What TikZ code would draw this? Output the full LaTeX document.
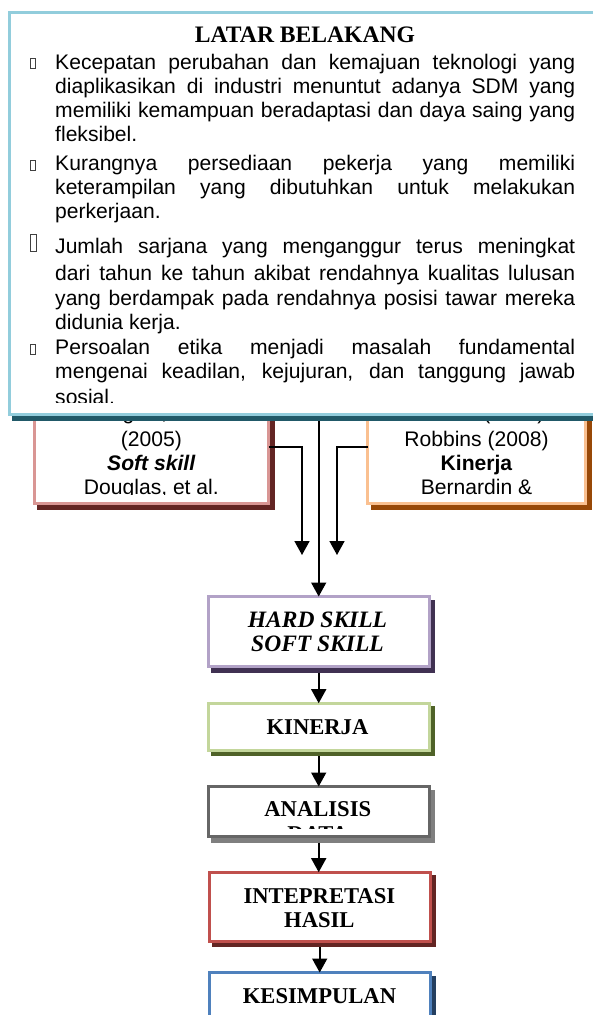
\documentclass[tikz,border=0pt]{standalone}
\usepackage{fontspec}
\setmainfont{Liberation Sans}
\newfontfamily\headfont{Liberation Serif}
\usepackage{tikz}
\usetikzlibrary{arrows.meta,shadows}

\definecolor{bgblue}{HTML}{92CDDC}
\definecolor{bgteal}{HTML}{215968}
\definecolor{sspink}{HTML}{D99694}
\definecolor{ssred}{HTML}{632523}
\definecolor{kjorange}{HTML}{FAC090}
\definecolor{kjbrown}{HTML}{984807}
\definecolor{hslilac}{HTML}{B2A2C7}
\definecolor{hspurple}{HTML}{403152}
\definecolor{kngreen}{HTML}{C3D69B}
\definecolor{knolive}{HTML}{4F6228}
\definecolor{andark}{HTML}{666666}
\definecolor{angray}{HTML}{7F7F7F}
\definecolor{inred}{HTML}{C0504D}
\definecolor{inmaroon}{HTML}{632523}
\definecolor{ksblue}{HTML}{4F81BD}
\definecolor{ksnavy}{HTML}{243F60}

\tikzset{
  panel/.style 2 args={draw=#1, line width=3pt, fill=white, inner sep=0pt, outer sep=0pt,
    general shadow={fill=#2, draw=#2, line width=3pt, shadow xshift=4.5pt, shadow yshift=-4.5pt}},
  flow/.style={line width=1.6pt, -{Triangle[width=15pt,length=14pt]}},
  bodytext/.style={anchor=base west, inner sep=0pt, font=\fontsize{21.1}{24}\selectfont},
  reftext/.style={anchor=base, inner sep=0pt, font=\fontsize{21.1}{24}\selectfont},
  steplabel/.style={anchor=base, inner sep=0pt, font=\headfont\bfseries\fontsize{22.6}{24}\selectfont},
  bulletbox/.style={draw=black!75, line width=0.6pt},
}

\begin{document}
\begin{tikzpicture}[x=1pt,y=-1pt]
\useasboundingbox[fill=white] (0,0) rectangle (592,1015);

% Theory boxes
\node[panel={sspink}{ssred}, minimum width=234.3pt, minimum height=113.5pt] (soft) at (151.35,446.75) {};
\node[panel={kjorange}{kjbrown}, minimum width=218pt, minimum height=113.5pt] (kin) at (476.5,446.75) {};
\begin{scope}
  \clip (20,380) rectangle (592,494.5);
  \node[reftext] (softa) at (151.35,419.5) {Douglas, et al.};
  \node[reftext] (softb) at (151.35,446) {(2005)};
  \node[reftext] (softc) at (151.35,470) {\textbf{\textit{Soft skill}}};
  \node[reftext] (softd) at (151.35,494) {Douglas, et al.};
  \node[reftext] (kina) at (476.5,419.5) {Russell (1993)};
  \node[reftext] (kinb) at (476.5,446) {Robbins (2008)};
  \node[reftext] (kinc) at (476.5,470) {\textbf{Kinerja}};
  \node[reftext] (kind) at (476.5,494) {Bernardin \&};
\end{scope}

% Steps
\node[panel={hslilac}{hspurple}, minimum width=221pt, minimum height=70pt] (hard) at (318.7,631.5) {};
\node[panel={kngreen}{knolive}, minimum width=221pt, minimum height=47pt] (kinerja) at (318.7,726.7) {};
\node[panel={andark}{angray}, minimum width=221pt, minimum height=50pt] (analisis) at (318.7,811.5) {};
\node[panel={inred}{inmaroon}, minimum width=221pt, minimum height=69pt] (tafsir) at (319.7,906.7) {};
\node[panel={ksblue}{ksnavy}, minimum width=221pt, minimum height=46pt] (simpul) at (319.7,995.5) {};

\node[steplabel, font=\headfont\bfseries\itshape\fontsize{23.5}{24}\selectfont] (harda) at (317.5,627) {HARD SKILL};
\node[steplabel, font=\headfont\bfseries\itshape\fontsize{23.5}{24}\selectfont] (hardb) at (317.5,651.3) {SOFT SKILL};
\node[steplabel] (kinerjaa) at (317.5,734) {KINERJA};
\begin{scope}
  \clip (200,780) rectangle (440,828);
  \node[steplabel] (analisisa) at (317.8,816.7) {ANALISIS};
  \node[steplabel] (analisisb) at (317.8,841.5) {DATA};
\end{scope}
\node[steplabel] (tafsira) at (319.4,903) {INTEPRETASI};
\node[steplabel] (tafsirb) at (319.4,927.3) {HASIL};
\node[steplabel] (simpula) at (319.5,1003) {KESIMPULAN};

% Connectors
\coordinate (softtip) at (302,555);
\coordinate (kintip) at (337,555);
\draw[flow] (soft.east) -| (softtip);
\draw[flow] (kin.west) -| (kintip);
\draw[flow] (hard.north |- soft.north) -- (hard.north);
\foreach \a/\b in {hard/kinerja, kinerja/analisis, analisis/tafsir, tafsir/simpul}
  \draw[flow, shorten <=6pt] (\a.south) -- (\a.south |- \b.north);

% Background
\node[panel={bgblue}{bgteal}, minimum width=591pt, minimum height=402.5pt] (latar) at (304.5,213.25) {};
\begin{scope}
  \clip (10.5,10.5) rectangle (600,402.5);
  \node[anchor=base, inner sep=0pt, font=\headfont\bfseries\fontsize{23.6}{24}\selectfont] (latartitle) at (305,42.3) {LATAR BELAKANG};
  \foreach \yy in {58,160,344}
    \draw[bulletbox] (30,\yy) rectangle (35,\yy+10);
  \draw[bulletbox] (30,234) rectangle (36.5,251.5);
  \foreach \yy/\linetext [count=\i] in {
      69/{\makebox[520pt][s]{Kecepatan perubahan dan kemajuan teknologi yang}},
      93/{\makebox[520pt][s]{diaplikasikan di industri menuntut adanya SDM yang}},
      117.5/{\makebox[520pt][s]{memiliki kemampuan beradaptasi dan daya saing yang}},
      141.5/{fleksibel.},
      170/{\makebox[520pt][s]{Kurangnya persediaan pekerja yang memiliki}},
      194/{\makebox[520pt][s]{keterampilan yang dibutuhkan untuk melakukan}},
      218/{perkerjaan.},
      253/{\makebox[520pt][s]{Jumlah sarjana yang menganggur terus meningkat}},
      280/{\makebox[520pt][s]{dari tahun ke tahun akibat rendahnya kualitas lulusan}},
      305/{\makebox[520pt][s]{yang berdampak pada rendahnya posisi tawar mereka}},
      329/{didunia kerja.},
      354.5/{\makebox[520pt][s]{Persoalan etika menjadi masalah fundamental}},
      378.5/{\makebox[520pt][s]{mengenai keadilan, kejujuran, dan tanggung jawab}},
      404.5/{sosial.}}
    \node[bodytext] (body\i) at (55,\yy) {\linetext};
\end{scope}
\end{tikzpicture}
\end{document}
